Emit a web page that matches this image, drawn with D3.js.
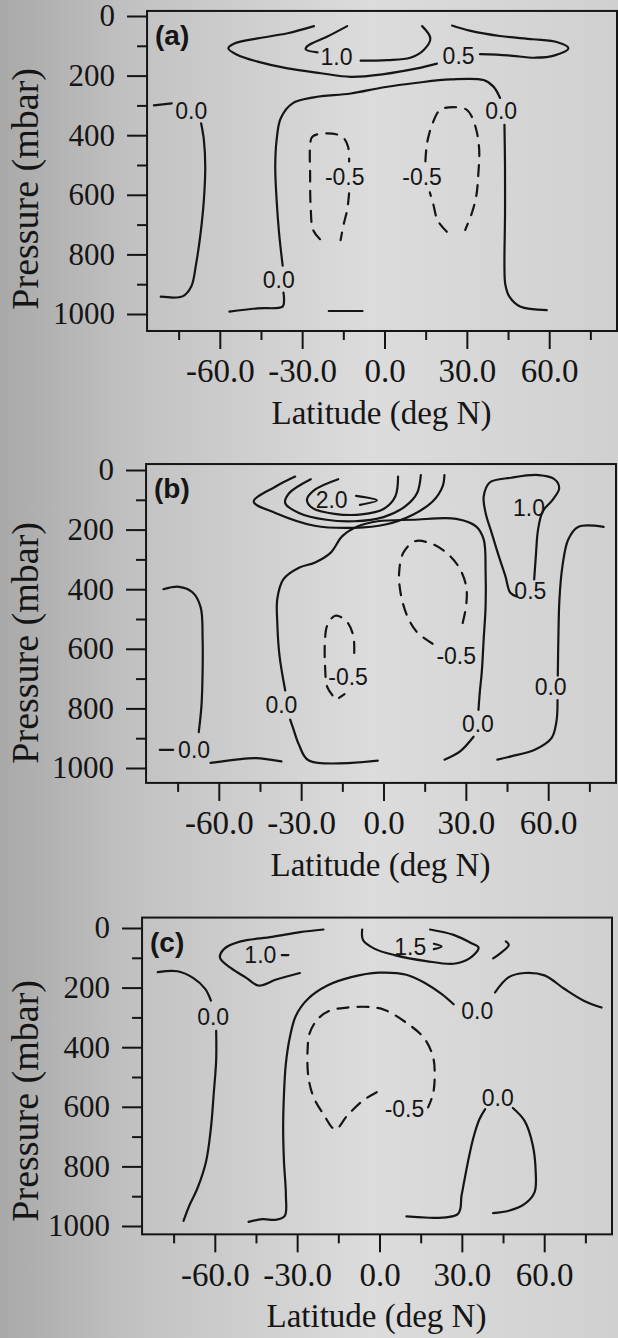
<!DOCTYPE html>
<html>
<head>
<meta charset="utf-8">
<script src="https://cdn.jsdelivr.net/npm/d3@7"></script>
<style>
body { margin: 0; background: #cdcdcd; }
</style>
</head>
<body>
<svg id="fig" width="618" height="1338"></svg>
<script>
// axis ticks
var latMajor = [-60, -30, 0, 30, 60];
var latMinor = [-75, -45, -15, 15, 45, 75];
var presMajor = [0, 200, 400, 600, 800, 1000];
var presMinor = [100, 300, 500, 700, 900];

// contour pieces, [latitude, pressure]; negative levels are dashed
var linesA = [
	{level: 0.5, pts: [[-25.7,34],[-35.3,58],[-46.2,75],[-54.7,92],[-56.9,108],[-53.5,131],[-46.2,153],[-35.3,176],[-23.2,192],[-12.3,204],[-0.2,195],[11.9,176],[19.1,160]]},
	{level: 0.5, pts: [[34.8,128],[45,132],[55,140],[62,132],[67,108],[63,88],[54,78],[42,67],[31,49],[24.6,32]]},
	{level: 1.0, pts: [[-13.6,34],[-20.8,69],[-28.1,101],[-28.7,112],[-24.4,122]]},
	{level: 1.0, pts: [[-8.7,150],[1.0,148],[9.4,140],[14.3,114],[16.7,75],[13.7,34]]},
	{level: 0.0, pts: [[-84,300],[-77.5,293]]},
	{level: 0.0, pts: [[-66.8,360],[-65.8,416],[-65.3,506],[-65.8,617],[-67.0,729],[-68.6,830],[-70.4,908],[-73.4,940],[-81.5,942]]},
	{level: 0.0, pts: [[-56.5,992],[-46.2,981],[-37.1,975],[-36.6,953],[-36.8,928]]},
	{level: 0.0, pts: [[-37.1,838],[-38.4,729],[-39.3,617],[-39.8,506],[-39.3,416],[-37.8,343],[-33.5,293],[-25.7,273],[-12.3,260],[-0.2,239],[11.9,224],[24.0,213],[36.1,215],[39.7,237],[42.1,275]]},
	{level: 0.0, pts: [[43.7,365],[43.9,506],[43.9,673],[43.7,841],[44,900],[45.5,942],[49.4,975],[59.1,987]]},
	{level: 0.0, pts: [[-20.3,990],[-8.0,990]]},
	{level: -0.5, pts: [[-23.5,749],[-26.0,718],[-26.9,640],[-27.1,528],[-27.1,438],[-26.3,405],[-20.8,394],[-15.4,405],[-13.3,438],[-12.9,488]]},
	{level: -0.5, pts: [[-12.9,595],[-13.6,651],[-14.8,696],[-16.0,752]]},
	{level: -0.5, pts: [[22.7,724],[19.4,687],[17.7,629],[16.5,592]]},
	{level: -0.5, pts: [[14.9,488],[15.5,427],[17.3,366],[20.3,315],[25.2,306],[30.0,315],[31.8,338],[33.6,388],[34.5,450],[34.2,528],[33.4,606],[31.8,662],[29.4,718]]}
];
var labelsA = [
	{level: 1.0, lat: -17.5, p: 137},
	{level: 0.5, lat: 27, p: 132},
	{level: 0.0, lat: -70.4, p: 318},
	{level: 0.0, lat: 42.5, p: 318},
	{level: 0.0, lat: -38.5, p: 886},
	{level: -0.5, lat: -14.5, p: 539},
	{level: -0.5, lat: 13.7, p: 539}
];

var linesB = [
	{level: 0.5, pts: [[-32.2,22],[-39.4,56],[-47.3,106],[-39.4,144],[-25.1,187],[-10.7,194],[0.7,183],[10.7,150],[17.9,106],[21.5,56],[22.2,17]]},
	{level: 1.0, pts: [[-26.5,31],[-34.4,78],[-35.8,111],[-30.8,144],[-20.8,167],[-10.7,172],[0,158],[7.9,122],[12.2,78],[13.6,17]]},
	{level: 1.5, pts: [[-16.5,31],[-25.1,67],[-27.9,100],[-25.8,128],[-17.9,147],[-7.9,149],[0,131],[4.3,89],[5.3,22]]},
	{level: 2.0, pts: [[-10.0,87],[-2.4,102],[-8.6,117]]},
	{level: 0.5, pts: [[48.5,424],[46.2,412],[44.4,356],[42,289],[39.4,211],[37.2,144],[36.5,89],[38.7,42],[46.5,26],[56.5,17],[62.3,31],[64,61],[61.6,100],[58,139],[56.3,200],[55.5,289],[54.9,367]]},
	{level: 0.0, pts: [[80.2,191],[70.9,191],[67.3,233],[65.2,322],[64.1,433],[63.7,567],[63.5,690]]},
	{level: 0.0, pts: [[63.4,772],[63,844],[61.2,900],[55.1,939],[46.5,961],[41.5,972]]},
	{level: 0.0, pts: [[-2.1,975],[-27.2,975],[-30.8,922],[-32.9,867],[-34,838]]},
	{level: 0.0, pts: [[-35.8,740],[-37.9,622],[-38.7,511],[-38.7,433],[-36.5,367],[-30.8,328],[-25.1,311],[-19.3,278],[-15,222],[-9.3,189],[-2.1,172],[10.7,167],[26.5,164],[33.7,189],[36.5,233],[37.2,344],[37.2,456],[36.5,567],[35.8,678],[35.1,744],[34.6,805]]},
	{level: 0.0, pts: [[32.8,895],[27.9,944],[22.2,972]]},
	{level: 0.0, pts: [[-80.2,400],[-74.5,392],[-69.5,411],[-66.6,461],[-65.9,567],[-65.9,678],[-66.3,789],[-67.3,880]]},
	{level: 0.0, pts: [[-81.5,939],[-76.6,939]]},
	{level: 0.0, pts: [[-63,983],[-53.7,972],[-46.5,967],[-37.2,978]]},
	{level: -0.5, pts: [[-18.6,756],[-20.5,728],[-21.3,656],[-21.3,567],[-20.5,522],[-17.6,489],[-13.6,506],[-11,556],[-10.7,622]]},
	{level: -0.5, pts: [[-14.2,752],[-16.2,765]]},
	{level: -0.5, pts: [[17.9,583],[12.2,544],[8.6,489],[6.2,411],[5.7,344],[7.2,278],[11.5,239],[16.5,244],[22.2,272],[27.2,322],[30.1,389],[30.1,456],[28.6,522]]}
];
var labelsB = [
	{level: 2.0, lat: -18.9, p: 100},
	{level: 1.0, lat: 53, p: 128},
	{level: 0.5, lat: 53.5, p: 406},
	{level: 0.0, lat: 60.9, p: 728},
	{level: 0.0, lat: -37.2, p: 789},
	{level: 0.0, lat: 34.4, p: 850},
	{level: 0.0, lat: -69, p: 939},
	{level: -0.5, lat: -12.9, p: 694},
	{level: -0.5, lat: 26.5, p: 622}
];

var linesC = [
	{level: 1.0, pts: [[-20.4,5],[-29,14],[-39.1,30],[-50.6,45],[-56.6,70],[-58.1,100],[-54.2,134],[-48.4,168],[-44.1,193],[-37.6,173],[-29,151]]},
	{level: 1.0, pts: [[-35.6,91],[-33.2,91]]},
	{level: 1.0, pts: [[46,45],[47.1,57],[44,85],[41.4,102]]},
	{level: 1.5, pts: [[-6.3,5],[-6,40],[-1.7,70],[5.5,91],[17,111],[27,120],[32.8,102],[36.1,66],[33.5,51],[27,23],[18.4,5]]},
	{level: 1.5, pts: [[19.8,53],[22.6,62],[19.8,71]]},
	{level: 0.0, pts: [[-47.7,986],[-42.7,977],[-37.6,979],[-34.5,966],[-34.1,897],[-34.8,784],[-35.1,670],[-34.8,557],[-34.1,454],[-32.6,364],[-30.5,295],[-26.2,239],[-19,193],[-10.3,165],[-0.3,150],[9.8,157],[17,187],[22.7,222],[27,256]]},
	{level: 0.0, pts: [[42.1,216],[47.1,165],[52.9,151],[60.1,159],[67.3,204],[74.4,244],[80.9,267]]},
	{level: 0.0, pts: [[-80.8,148],[-73.6,145],[-67.8,168],[-63.5,204],[-61.4,244]]},
	{level: 0.0, pts: [[-59.5,345],[-59.5,443],[-60.4,557],[-61.4,670],[-63.2,784],[-66.4,875],[-69.3,932],[-71.4,983]]},
	{level: 0.0, pts: [[9.8,968],[28.5,960],[29.9,897],[32,795],[34.2,704],[36.4,642],[38.5,608]]},
	{level: 0.0, pts: [[48.6,604],[52.9,648],[55.8,727],[56.9,818],[56.5,886],[52.9,926],[47.1,949],[41.4,957]]},
	{level: -0.5, pts: [[-1,551],[-6,579],[-11.8,630],[-16.1,676],[-20.4,625],[-24,568],[-25.9,500],[-26.2,409],[-25.4,352],[-22.6,307],[-18.3,278],[-11.8,267],[-3.9,265],[1.9,275],[9.8,318],[16.2,369],[19.5,432],[20.1,500],[19.5,557],[17.7,602]]}
];
var labelsC = [
	{level: 1.0, lat: -43.4, p: 91},
	{level: 1.5, lat: 11.2, p: 62},
	{level: 0.0, lat: -60.6, p: 298},
	{level: 0.0, lat: 35.6, p: 278},
	{level: 0.0, lat: 43.1, p: 568},
	{level: -0.5, lat: 9.1, p: 608}
];

var svgWidth = 618, svgHeight = 1338;
var ink = "#151515";
var svg = d3.select("#fig");

// scanned paper tone
var grad = svg.append("defs").append("linearGradient")
	.attr("id", "paper")
	.attr("x1", 0).attr("x2", 1).attr("y1", 0).attr("y2", 0);
grad.append("stop").attr("offset", "0%").attr("stop-color", "#a9a9a9");
grad.append("stop").attr("offset", "22%").attr("stop-color", "#c2c2c2");
grad.append("stop").attr("offset", "60%").attr("stop-color", "#dcdcdc");
grad.append("stop").attr("offset", "100%").attr("stop-color", "#d0d0d0");
svg.append("rect")
	.attr("width", svgWidth)
	.attr("height", svgHeight)
	.attr("fill", "url(#paper)");

function drawPanel(tag, lines, labels, top, dx, pTop, pBot) {
	var x = d3.scaleLinear()
		.domain([0, 60])
		.range([384.5 + dx, 384.5 + dx + 164.7]);
	var y = d3.scaleLinear()
		.domain([0, 1000])
		.range([top, top + 298]);

	var left = x(-86.5), right = x(84.7);
	var yTop = y(pTop), yBot = y(pBot);

	var g = svg.append("g");

	var line = d3.line()
		.x(function(d) { return x(d[0]) })
		.y(function(d) { return y(d[1]) })
		.curve(d3.curveCatmullRom.alpha(0.5));

	g.selectAll(".contour")
		.data(lines)
		.enter().append("path")
		.attr("fill", "none")
		.attr("stroke", ink)
		.attr("stroke-width", 2.2)
		.attr("stroke-linecap", "round")
		.attr("stroke-linejoin", "round")
		.attr("stroke-dasharray", function(d) { return d.level < 0 ? "11,9" : null })
		.attr("d", function(d) { return line(d.pts) });

	g.selectAll(".clabel")
		.data(labels)
		.enter().append("text")
		.attr("x", function(d) { return x(d.lat) })
		.attr("y", function(d) { return y(d.p) })
		.attr("dy", "0.36em")
		.attr("text-anchor", "middle")
		.attr("font-family", "Liberation Sans, Arial, sans-serif")
		.attr("font-size", 23)
		.attr("fill", ink)
		.text(function(d) { return d.level.toFixed(1) });

	// frame
	g.append("rect")
		.attr("x", left)
		.attr("y", yTop)
		.attr("width", right - left)
		.attr("height", yBot - yTop)
		.attr("fill", "none")
		.attr("stroke", ink)
		.attr("stroke-width", 2);

	var yAxis = g.append("g")
		.attr("transform", "translate(" + left + ",0)")
		.call(d3.axisLeft(y).tickValues(presMajor).tickSize(20).tickPadding(12)
			.tickFormat(function(d) { return String(d) }));
	g.append("g")
		.attr("transform", "translate(" + left + ",0)")
		.call(d3.axisLeft(y).tickValues(presMinor).tickSize(10).tickFormat(""));

	var xAxis = g.append("g")
		.attr("transform", "translate(0," + yBot + ")")
		.call(d3.axisBottom(x).tickValues(latMajor).tickSize(18).tickPadding(10)
			.tickFormat(function(d) { return d.toFixed(1) }));
	g.append("g")
		.attr("transform", "translate(0," + yBot + ")")
		.call(d3.axisBottom(x).tickValues(latMinor).tickSize(9).tickFormat(""));

	g.selectAll(".domain").remove();
	g.selectAll(".tick line").attr("stroke", ink).attr("stroke-width", 2);
	yAxis.selectAll("text")
		.attr("font-family", "Liberation Serif, Times New Roman, serif")
		.attr("font-size", 31)
		.attr("fill", ink);
	xAxis.selectAll("text")
		.attr("font-family", "Liberation Serif, Times New Roman, serif")
		.attr("font-size", 33)
		.attr("fill", ink);

	g.append("text")
		.attr("x", left + 8)
		.attr("y", yTop + 34)
		.attr("font-family", "Liberation Sans, Arial, sans-serif")
		.attr("font-weight", "bold")
		.attr("font-size", 28)
		.attr("fill", ink)
		.text(tag);

	g.append("text")
		.attr("x", x(0) - 3)
		.attr("y", yBot + 93)
		.attr("text-anchor", "middle")
		.attr("font-family", "Liberation Serif, Times New Roman, serif")
		.attr("font-size", 33)
		.attr("fill", ink)
		.text("Latitude (deg N)");

	g.append("text")
		.attr("transform", "translate(38," + y(580) + ") rotate(-90)")
		.attr("text-anchor", "middle")
		.attr("font-family", "Liberation Serif, Times New Roman, serif")
		.attr("font-size", 38)
		.attr("fill", ink)
		.text("Pressure (mbar)");
}

drawPanel("(a)", linesA, labelsA, 16, 0, -17, 1057);
drawPanel("(b)", linesB, labelsB, 470, -1, -20, 1050);
drawPanel("(c)", linesC, labelsC, 928, -5, -35, 1028);
</script>
</body>
</html>
